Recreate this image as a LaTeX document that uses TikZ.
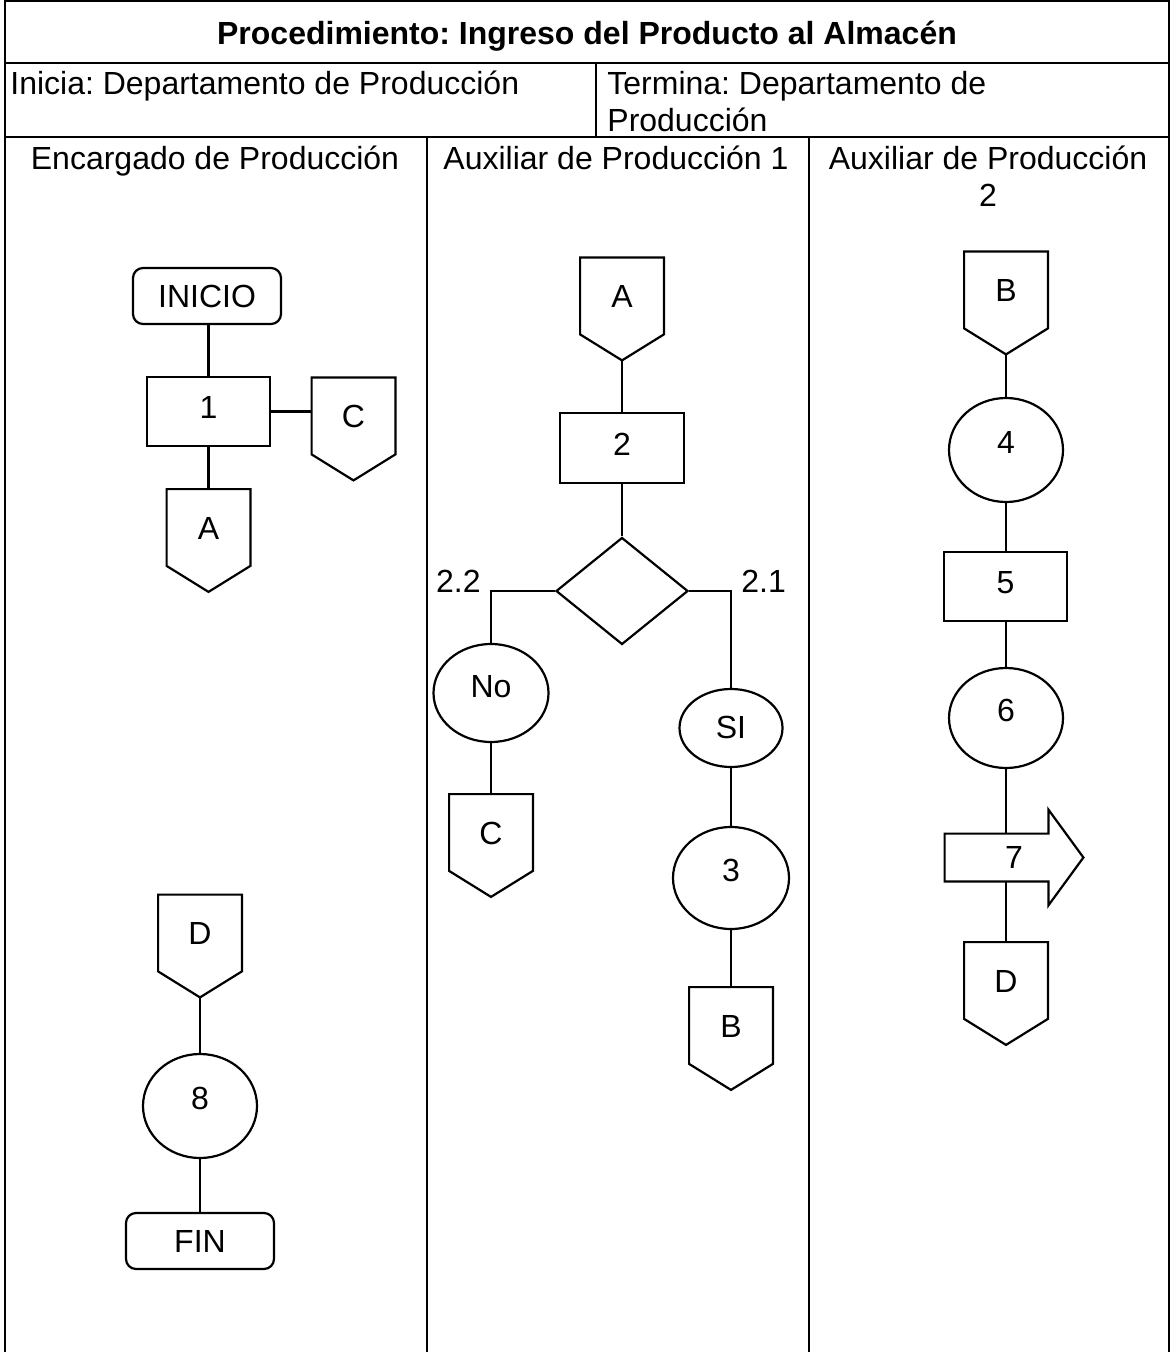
\documentclass[tikz,border=0pt]{standalone}
\usepackage{fontspec}
\setmainfont{Liberation Sans}
\usetikzlibrary{shapes.geometric,calc}
\newcommand{\diagfont}{\fontsize{16pt}{18.5pt}\selectfont\frenchspacing}
% off-page connector: body node plus a pointed bottom, tip kept as <name>-tip
\newcommand{\offpage}[3]{%
  \node[offbody] (#1) at (#2) {#3};
  \draw[shapeline] (#1.north west) -- (#1.north east) -- (#1.south east)
    -- ([yshift=-13pt]#1.south) coordinate (#1-tip) -- (#1.south west) -- cycle;
}
\begin{document}
\begin{tikzpicture}[x=0.5pt,y=-0.5pt,
  every node/.style={font=\diagfont, inner sep=0pt},
  frameline/.style={line width=1pt},
  shapeline/.style={line width=1.1pt},
  link/.style={line width=1.1pt},
  proc/.style={draw, shapeline, rectangle, minimum width=61.5pt, minimum height=34.5pt, text depth=4pt},
  term/.style={draw, shapeline, rectangle, rounded corners=5pt, minimum width=74pt, minimum height=28pt},
  oval/.style={draw, shapeline, ellipse, text depth=8pt},
  offbody/.style={rectangle, minimum width=41.5pt, minimum height=38pt, text height=11.5pt, text depth=-3pt},
  decision/.style={draw, shapeline, diamond, minimum width=66pt, minimum height=53.5pt},
  arrowbody/.style={rectangle, minimum width=69pt, minimum height=23.5pt}
]
\useasboundingbox (0,0) rectangle (1170,1352);

% table frame
\draw[frameline] (5,1352) -- (5,1.5) -- (1169,1.5) -- (1169,1352);
\draw[frameline] (5,63) -- (1169,63);
\draw[frameline] (5,137) -- (1169,137);
\draw[frameline] (596,63) -- (596,137);
\draw[frameline] (427,137) -- (427,1352);
\draw[frameline] (809,137) -- (809,1352);

% header texts
\node[anchor=base, font=\diagfont\bfseries] (title) at (587,44.5) {Procedimiento: Ingreso del Producto al Almacén};
\node[anchor=base west] (inicia) at (10,94.5) {Inicia: Departamento de Producción};
\node[anchor=base west, align=left] (termina) at (607,131.5) {Termina: Departamento de\\Producción};
\node[anchor=base] (lane1) at (215,169.5) {Encargado de Producción};
\node[anchor=base] (lane2) at (616,169.5) {Auxiliar de Producción 1};
\node[anchor=base, align=center] (lane3) at (988,206.5) {Auxiliar de Producción\\2};

% lane 1: Encargado de Produccion
\node[term] (inicio) at (207,296) {INICIO};
\node[proc] (p1) at (208.5,411.5) {1};
\offpage{C1}{353.5,416}{C}
\offpage{A1}{208.5,527.5}{A}
\offpage{D1}{200,933}{D}
\node[oval, minimum width=57pt, minimum height=52pt] (p8) at (200,1106) {8};
\node[term] (fin) at (200,1241) {FIN};

\draw[link] (inicio.south -| p1) -- (p1.north);
\draw[link] (p1.east) -- (p1.east -| C1.west);
\draw[link] (p1.south) -- (A1.north);
\draw[link] (D1-tip) -- (p8.north);
\draw[link] (p8.south) -- (fin.north);

% lane 2: Auxiliar de Produccion 1
\offpage{A2}{622,296}{A}
\node[proc, minimum width=62pt, minimum height=35pt] (p2) at (622,448) {2};
\node[decision] (q2) at (622,591) {};
\node[oval, minimum width=57.5pt, minimum height=49pt, text depth=7pt] (no) at (491,693) {No};
\offpage{C2}{491,832.5}{C}
\node[oval, minimum width=51.5pt, minimum height=39pt, text depth=1pt] (si) at (731,728) {SI};
\node[oval, minimum width=58pt, minimum height=51pt] (p3) at (731,878) {3};
\offpage{B2}{731,1025.5}{B}
\node[anchor=base east] (l22) at (481,592.5) {2.2};
\node[anchor=base west] (l21) at (741,592.5) {2.1};

\draw[link] (A2-tip) -- (p2.north);
\draw[link] (p2.south) -- (q2.north);
\draw[link] (q2.west) -| (no.north);
\draw[link] (q2.east) -| (si.north);
\draw[link] (no.south) -- (C2.north);
\draw[link] (si.south) -- (p3.north);
\draw[link] (p3.south) -- (B2.north);

% lane 3: Auxiliar de Produccion 2
\offpage{B3}{1006,290}{B}
\node[oval, minimum width=57pt, minimum height=52pt] (p4) at (1006,450) {4};
\node[proc] (p5) at (1005.5,586.5) {5};
\node[oval, minimum width=57pt, minimum height=50pt] (p6) at (1006,718) {6};
\node[arrowbody] (p7) at (1014,857.5) {7};
\draw[shapeline] (p7.north west) -- ([xshift=-17.5pt]p7.north east)
  -- ([xshift=-17.5pt,yshift=12pt]p7.north east) -- (p7.east)
  -- ([xshift=-17.5pt,yshift=-12pt]p7.south east) -- ([xshift=-17.5pt]p7.south east)
  -- (p7.south west) -- cycle;
\offpage{D3}{1006,980.5}{D}

\draw[link] (B3-tip) -- (p4.north);
\draw[link] (p4.south) -- (p4.south |- p5.north);
\draw[link] (p4.south |- p5.south) -- (p6.north);
\draw[link] (p6.south) -- (p6.south |- p7.north);
\draw[link] (p6.south |- p7.south) -- (D3.north);
\end{tikzpicture}
\end{document}
